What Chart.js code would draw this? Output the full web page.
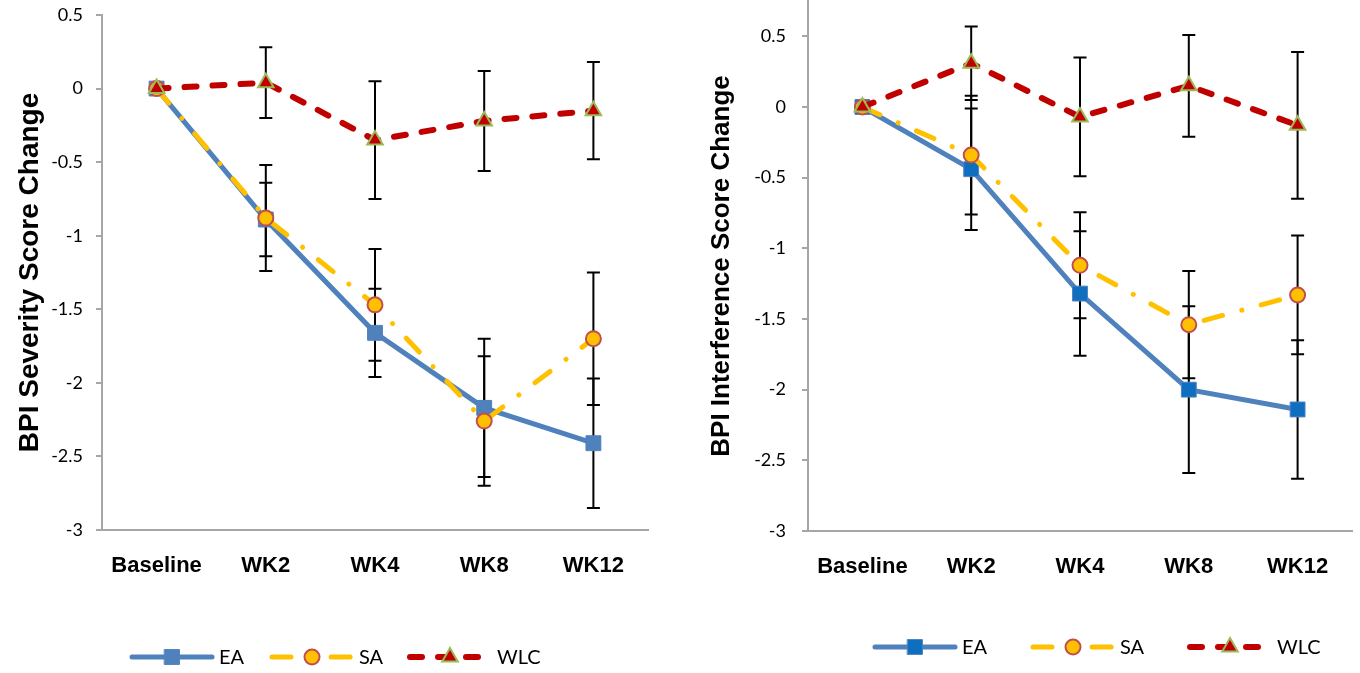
<!DOCTYPE html>
<html>
<head>
<meta charset="utf-8">
<script src="https://cdn.jsdelivr.net/npm/chart.js@4.4.0/dist/chart.umd.min.js"></script>
<style>
body{margin:0;background:#fff;}
.box{position:absolute;top:0;width:680px;height:673px;}
</style>
</head>
<body>
<div class="box" style="left:0"><canvas id="sev"></canvas></div>
<div class="box" style="left:680px"><canvas id="intf"></canvas></div>
<script>
var weeks = ['Baseline', 'WK2', 'WK4', 'WK8', 'WK12'];
var yTicks = [-3, -2.5, -2, -1.5, -1, -0.5, 0, 0.5];

// BPI severity
var sevEA = [0, -0.89, -1.66, -2.17, -2.41];
var sevEAErr = [0, 0.25, 0.30, 0.47, 0.44];
var sevSA = [0, -0.88, -1.47, -2.26, -1.70];
var sevSAErr = [0, 0.36, 0.38, 0.44, 0.45];
var sevWLC = [0, 0.04, -0.35, -0.22, -0.15];
var sevWLCErr = [0, 0.24, 0.40, 0.34, 0.33];

// BPI interference
var intEA = [0, -0.44, -1.32, -2.00, -2.14];
var intEAErr = [0, 0.43, 0.44, 0.59, 0.49];
var intSA = [0, -0.34, -1.12, -1.54, -1.33];
var intSAErr = [0, 0.42, 0.375, 0.38, 0.42];
var intWLC = [0, 0.31, -0.07, 0.15, -0.13];
var intWLCErr = [0, 0.26, 0.42, 0.36, 0.52];

var errorBars = {
  id: 'errorBars',
  beforeDatasetsDraw: function(chart) {
    var ctx = chart.ctx, ys = chart.scales.y;
    ctx.save();
    ctx.strokeStyle = '#000';
    ctx.lineWidth = 2;
    chart.data.datasets.forEach(function(ds, i) {
      var meta = chart.getDatasetMeta(i);
      meta.data.forEach(function(pt, j) {
        var e = ds.errors[j];
        if (!e) return;
        var top = ys.getPixelForValue(ds.data[j] + e);
        var bot = ys.getPixelForValue(ds.data[j] - e);
        ctx.beginPath();
        ctx.moveTo(pt.x, top); ctx.lineTo(pt.x, bot);
        ctx.moveTo(pt.x - 6.5, top); ctx.lineTo(pt.x + 6.5, top);
        ctx.moveTo(pt.x - 6.5, bot); ctx.lineTo(pt.x + 6.5, bot);
        ctx.stroke();
      });
    });
    ctx.restore();
  }
};

function marker(ctx, ds, x, y) {
  var r = ds.pointRadius;
  ctx.fillStyle = ds.pointBackgroundColor;
  ctx.strokeStyle = ds.pointBorderColor;
  ctx.lineWidth = ds.pointBorderWidth;
  ctx.beginPath();
  if (ds.pointStyle == 'rect') {
    var s = r * Math.SQRT1_2;
    ctx.rect(x - s, y - s, 2 * s, 2 * s);
  } else if (ds.pointStyle == 'triangle') {
    ctx.moveTo(x, y - r);
    ctx.lineTo(x + r * 0.866, y + r / 2);
    ctx.lineTo(x - r * 0.866, y + r / 2);
    ctx.closePath();
  } else {
    ctx.arc(x, y, r, 0, Math.PI * 2);
  }
  ctx.fill();
  ctx.stroke();
}

var lineLegend = {
  id: 'lineLegend',
  afterDraw: function(chart, args, opts) {
    var ctx = chart.ctx;
    ctx.save();
    chart.data.datasets.forEach(function(ds, i) {
      var x = opts.xs[i], y = opts.y;
      ctx.strokeStyle = ds.borderColor;
      ctx.lineWidth = ds.borderWidth;
      ctx.lineCap = ds.borderCapStyle || 'butt';
      ctx.setLineDash(ds.borderDash || []);
      ctx.beginPath();
      ctx.moveTo(x, y); ctx.lineTo(x + 80, y);
      ctx.stroke();
      ctx.setLineDash([]);
      marker(ctx, ds, x + 40, y);
      ctx.fillStyle = '#000';
      ctx.font = '20px Lato';
      ctx.textBaseline = 'middle';
      ctx.fillText(ds.label, x + 87, y + 1);
    });
    ctx.restore();
  }
};

function makeSets(ea, eaErr, sa, saErr, wlc, wlcErr, eaFill) {
  return [{
    label: 'EA', data: ea, errors: eaErr, order: 2,
    borderColor: '#4F81BD', borderWidth: 5, borderCapStyle: 'round',
    pointStyle: 'rect', pointRadius: 10.5, pointHoverRadius: 10.5,
    pointBackgroundColor: eaFill, pointBorderColor: '#4F81BD', pointBorderWidth: 1
  }, {
    label: 'SA', data: sa, errors: saErr, order: 1,
    borderColor: '#FFC000', borderWidth: 5, borderCapStyle: 'round', borderDash: [19, 20, 0.1, 20],
    pointStyle: 'circle', pointRadius: 7.5, pointHoverRadius: 7.5,
    pointBackgroundColor: '#FFC000', pointBorderColor: '#C0504D', pointBorderWidth: 2
  }, {
    label: 'WLC', data: wlc, errors: wlcErr, order: 0,
    borderColor: '#C00000', borderWidth: 6, borderCapStyle: 'round', borderDash: [12, 16],
    pointStyle: 'triangle', pointRadius: 9, pointHoverRadius: 9,
    pointBackgroundColor: '#C00000', pointBorderColor: '#9BBB59', pointBorderWidth: 2
  }];
}

function makeChart(id, title, titleSize, sets, yMax, yWidth, titlePad, tickPad, pad, legX, legY) {
  return new Chart(document.getElementById(id), {
    type: 'line',
    data: { labels: weeks, datasets: sets },
    plugins: [errorBars, lineLegend],
    options: {
      responsive: true,
      maintainAspectRatio: false,
      animation: false,
      layout: { padding: pad, autoPadding: false },
      elements: { line: { tension: 0, fill: false } },
      plugins: {
        legend: { display: false },
        tooltip: { enabled: false },
        lineLegend: { xs: legX, y: legY }
      },
      scales: {
        x: {
          offset: true,
          grid: { display: true, drawOnChartArea: false, drawTicks: false },
          border: { color: '#A6A6A6', width: 2 },
          ticks: { color: '#000', font: { family: 'Liberation Sans', size: 22, weight: 'bold' }, padding: 23, maxRotation: 0 },
          afterFit: function(s) { s.height = 60; s.paddingLeft = 0; s.paddingRight = 0; }
        },
        y: {
          min: -3, max: yMax,
          afterBuildTicks: function(s) { s.ticks = yTicks.map(function(v) { return { value: v }; }); },
          grid: { display: true, drawOnChartArea: false, drawTicks: true, tickLength: 6, color: '#A6A6A6', lineWidth: 2 },
          border: { color: '#A6A6A6', width: 2 },
          ticks: {
            color: '#000', font: { family: 'Lato', size: 18, lineHeight: 0.1 }, padding: tickPad, autoSkip: false,
            callback: function(v) { return String(Math.round(v * 10) / 10); }
          },
          title: {
            display: true, text: title, color: '#000',
            font: { family: 'Liberation Sans', size: titleSize, weight: 'bold' },
            padding: { top: titlePad, bottom: 0 }
          },
          afterFit: function(s) { s.width = yWidth; s.paddingTop = 0; s.paddingBottom = 0; }
        }
      }
    }
  });
}

makeChart('sev', 'BPI Severity Score Change', 28,
  makeSets(sevEA, sevEAErr, sevSA, sevSAErr, sevWLC, sevWLCErr, '#4F81BD'),
  0.5, 102, 13, 13, { left: 0, top: 15, right: 32, bottom: 83 }, [132, 272, 410], 657);

makeChart('intf', 'BPI Interference Score Change', 26,
  makeSets(intEA, intEAErr, intSA, intSAErr, intWLC, intWLCErr, '#0E6EC0'),
  0.75, 128, 26, 16, { left: 0, top: 1, right: 8, bottom: 82 }, [195, 353, 510], 647);
</script>
</body>
</html>
